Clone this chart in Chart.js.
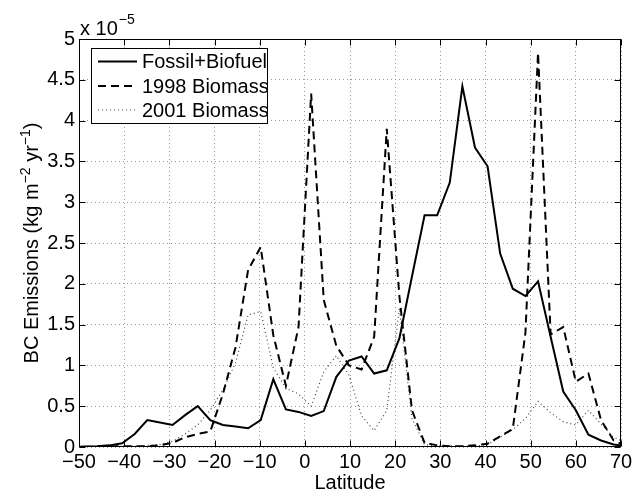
<!DOCTYPE html>
<html lang="en">
<head>
  <meta charset="UTF-8">
  <title>BC Emissions by Latitude</title>
  <script src="https://cdn.jsdelivr.net/npm/chart.js"></script>
  <style>
    body { margin: 0; background: #fff; }
    canvas { display: block; }
  </style>
</head>
<body>
  <canvas id="chartCanvas" width="642" height="495"></canvas>

  <script>
    // latitudes of the model grid (degrees)
    const lat = [-51.63, -48.84, -46.04, -43.25, -40.46, -37.67, -34.88, -32.09, -29.30, -26.51,
                 -23.72, -20.93, -18.14, -15.35, -12.56, -9.77, -6.98, -4.19, -1.40, 1.40,
                 4.19, 6.98, 9.77, 12.56, 15.35, 18.14, 20.93, 23.72, 26.51, 29.30,
                 32.09, 34.88, 37.67, 40.46, 43.25, 46.04, 48.84, 51.63, 54.42, 57.21,
                 60.00, 62.79, 65.58, 68.37, 71.16];

    // emissions in units of 1e-5 kg m-2 yr-1
    const fossil = [0, 0.005, 0.01, 0.02, 0.045, 0.16, 0.33, 0.30, 0.27, 0.39,
                    0.50, 0.33, 0.27, 0.25, 0.23, 0.33, 0.83, 0.46, 0.43, 0.38,
                    0.44, 0.86, 1.06, 1.11, 0.90, 0.94, 1.33, 2.09, 2.84, 2.84,
                    3.24, 4.42, 3.67, 3.44, 2.37, 1.94, 1.85, 2.03, 1.35, 0.68,
                    0.45, 0.15, 0.08, 0.03, 0.01];

    const bio1998 = [0, 0, 0.005, 0.01, 0.01, 0.01, 0.01, 0.02, 0.05, 0.12,
                     0.16, 0.19, 0.65, 1.22, 2.17, 2.45, 1.37, 0.75, 1.47, 4.33,
                     1.80, 1.24, 1.00, 0.95, 1.35, 3.90, 1.85, 0.45, 0.05, 0.02,
                     0.01, 0.01, 0.02, 0.04, 0.13, 0.22, 1.40, 4.83, 1.38, 1.47,
                     0.80, 0.90, 0.33, 0.08, 0.01];

    const bio2001 = [0, 0, 0, 0.005, 0.01, 0.01, 0.02, 0.03, 0.07, 0.16,
                     0.27, 0.45, 0.70, 1.03, 1.62, 1.66, 0.97, 0.72, 0.65, 0.50,
                     0.92, 1.12, 0.88, 0.38, 0.20, 0.45, 1.70, 0.35, 0.03, 0.01,
                     0.01, 0.01, 0.01, 0.03, 0.12, 0.21, 0.35, 0.56, 0.42, 0.31,
                     0.27, 0.45, 0.28, 0.12, 0.05];

    const FONT = "'Liberation Sans', Arial, Helvetica, sans-serif";

    const pts = arr => lat.map((x, i) => ({ x, y: arr[i] }));

    // box, inward ticks, legend and the y label with superscripts
    const matlabFrame = {
      id: 'matlabFrame',
      afterDraw(chart) {
        const { ctx, chartArea: a, scales } = chart;
        const L = Math.round(a.left) + 0.5, R = Math.round(a.right) - 0.5;
        const T = Math.round(a.top) + 0.5, B = Math.round(a.bottom) - 0.5;
        ctx.save();
        ctx.setLineDash([]);
        ctx.strokeStyle = '#000';
        ctx.lineWidth = 1;
        ctx.strokeRect(L, T, R - L, B - T);

        const tl = 6;
        ctx.beginPath();
        scales.x.ticks.forEach(t => {
          const px = Math.round(scales.x.getPixelForValue(t.value)) + 0.5;
          ctx.moveTo(px, B); ctx.lineTo(px, B - tl);
          ctx.moveTo(px, T); ctx.lineTo(px, T + tl);
        });
        scales.y.ticks.forEach(t => {
          const py = Math.round(scales.y.getPixelForValue(t.value)) + 0.5;
          ctx.moveTo(L, py); ctx.lineTo(L + tl, py);
          ctx.moveTo(R, py); ctx.lineTo(R - tl, py);
        });
        ctx.stroke();

        // exponent label
        ctx.fillStyle = '#000';
        ctx.textBaseline = 'alphabetic';
        ctx.textAlign = 'left';
        ctx.font = '20px ' + FONT;
        ctx.fillText('x 10', 80, 35);
        const w10 = ctx.measureText('x 10').width;
        ctx.font = '14px ' + FONT;
        ctx.fillText('\u22125', 80 + w10 + 1, 24);

        // y axis title
        const parts = [
          ['BC Emissions (kg m', 20, 0],
          ['\u22122', 14, -8],
          [' yr', 20, 0],
          ['\u22121', 14, -8],
          [')', 20, 0]
        ];
        let total = 0;
        parts.forEach(p => { ctx.font = p[1] + 'px ' + FONT; total += ctx.measureText(p[0]).width; });
        ctx.save();
        ctx.translate(38, (a.top + a.bottom) / 2);
        ctx.rotate(-Math.PI / 2);
        let cx = -total / 2;
        parts.forEach(p => {
          ctx.font = p[1] + 'px ' + FONT;
          ctx.fillText(p[0], cx, p[2]);
          cx += ctx.measureText(p[0]).width;
        });
        ctx.restore();

        // legend
        const bx = 91.5, by = 48.5, bw = 176, bh = 75;
        ctx.fillStyle = '#fff';
        ctx.fillRect(bx, by, bw, bh);
        ctx.strokeStyle = '#000';
        ctx.lineWidth = 1;
        ctx.strokeRect(bx, by, bw, bh);
        const rows = [61.5, 86, 110];
        chart.data.datasets.forEach((ds, i) => {
          ctx.beginPath();
          ctx.setLineDash(ds.borderDash || []);
          ctx.strokeStyle = ds.borderColor;
          ctx.lineWidth = ds.borderWidth;
          ctx.moveTo(98, rows[i]);
          ctx.lineTo(137, rows[i]);
          ctx.stroke();
          ctx.setLineDash([]);
          ctx.fillStyle = '#000';
          ctx.font = '20px ' + FONT;
          ctx.textBaseline = 'middle';
          ctx.fillText(ds.label, 142, rows[i] + 1);
        });
        ctx.restore();
      }
    };

    const tickFont = { family: FONT, size: 20 };

    new Chart(document.getElementById('chartCanvas'), {
      type: 'line',
      data: {
        datasets: [
          { label: 'Fossil+Biofuel', data: pts(fossil), borderColor: '#000', borderWidth: 2 },
          { label: '1998 Biomass', data: pts(bio1998), borderColor: '#000', borderWidth: 2, borderDash: [8, 5] },
          { label: '2001 Biomass', data: pts(bio2001), borderColor: '#444', borderWidth: 1.2, borderDash: [1, 3] }
        ]
      },
      options: {
        responsive: false,
        animation: false,
        elements: { point: { radius: 0 }, line: { tension: 0, fill: false } },
        layout: { padding: { top: 39, right: 21, left: 0, bottom: 0 } },
        plugins: { legend: { display: false }, tooltip: { enabled: false } },
        scales: {
          x: {
            type: 'linear', min: -50, max: 70,
            ticks: {
              stepSize: 10, autoSkip: false, maxRotation: 0, padding: 3,
              color: '#000', font: tickFont,
              callback: v => v < 0 ? '\u2212' + Math.abs(v) : String(v)
            },
            grid: { color: '#999', drawTicks: false },
            border: { display: false, dash: [1, 3] },
            title: { display: true, text: 'Latitude', color: '#000', font: tickFont, padding: 0 },
            afterFit: s => { s.height = 48; }
          },
          y: {
            min: 0, max: 5,
            ticks: { stepSize: 0.5, padding: 4, color: '#000', font: tickFont, callback: v => String(v) },
            grid: { color: '#999', drawTicks: false },
            border: { display: false, dash: [1, 3] },
            afterFit: s => { s.width = 79; }
          }
        }
      },
      plugins: [matlabFrame]
    });
  </script>
</body>
</html>
